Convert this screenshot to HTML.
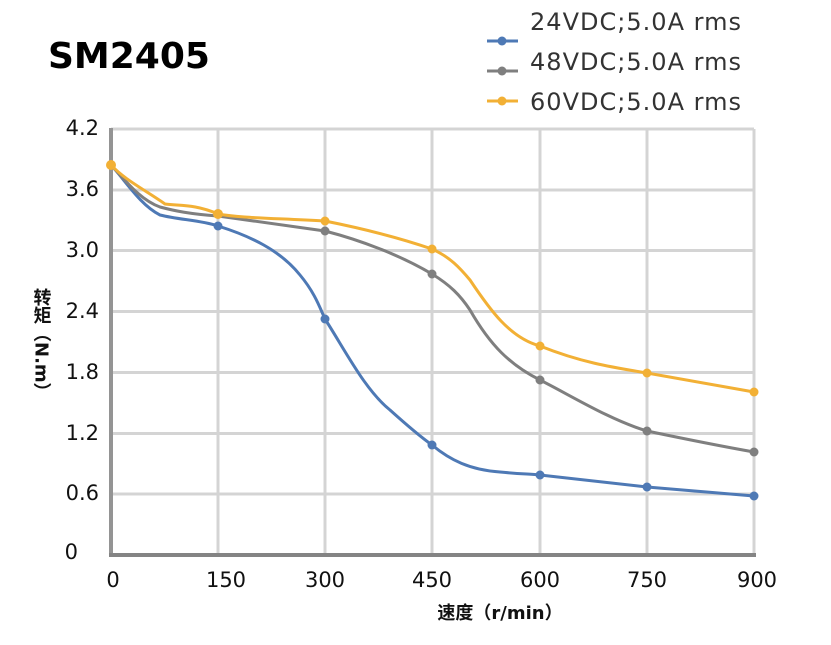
<!DOCTYPE html>
<html><head><meta charset="utf-8"><style>
body{margin:0;background:#fff;}
svg text{font-family:"DejaVu Sans","Noto Sans CJK SC",sans-serif;}
</style></head><body>
<svg width="831" height="640" viewBox="0 0 831 640" xmlns="http://www.w3.org/2000/svg">
<rect width="831" height="640" fill="#fff"/>
<g stroke="#d4d4d4" stroke-width="3">
<line x1="111" y1="129" x2="754" y2="129"/>
<line x1="111" y1="190" x2="754" y2="190"/>
<line x1="111" y1="250.5" x2="754" y2="250.5"/>
<line x1="111" y1="311.5" x2="754" y2="311.5"/>
<line x1="111" y1="372.5" x2="754" y2="372.5"/>
<line x1="111" y1="433.5" x2="754" y2="433.5"/>
<line x1="111" y1="494" x2="754" y2="494"/>
<line x1="218" y1="129" x2="218" y2="555"/>
<line x1="325" y1="129" x2="325" y2="555"/>
<line x1="432" y1="129" x2="432" y2="555"/>
<line x1="540" y1="129" x2="540" y2="555"/>
<line x1="647" y1="129" x2="647" y2="555"/>
<line x1="754" y1="129" x2="754" y2="555"/>
</g>
<line x1="111" y1="128" x2="111" y2="556" stroke="#949494" stroke-width="4"/>
<line x1="109" y1="555" x2="756" y2="555" stroke="#848484" stroke-width="4"/>
<g font-size="21" fill="#111" text-anchor="end">
<text x="99" y="135">4.2</text><text x="99" y="196">3.6</text><text x="99" y="257">3.0</text>
<text x="99" y="318">2.4</text><text x="99" y="379">1.8</text><text x="99" y="440">1.2</text>
<text x="99" y="500">0.6</text><text x="78" y="559">0</text>
</g>
<g font-size="21" fill="#111" text-anchor="middle">
<text x="113" y="587">0</text><text x="226" y="587">150</text><text x="325" y="587">300</text>
<text x="432" y="587">450</text><text x="540" y="587">600</text><text x="647" y="587">750</text><text x="757" y="587">900</text>
</g>
<text x="500" y="619" font-size="18" font-weight="bold" text-anchor="middle" fill="#111">速度（r/min）</text>
<text x="41" y="288" font-size="18" font-weight="bold" fill="#111" style="writing-mode:vertical-rl">转矩（N.m）</text>
<text x="48" y="68" font-size="36" font-weight="bold" fill="#000">SM2405</text>
<g stroke-width="3" fill="none" stroke-linecap="round" stroke-linejoin="round">
<path stroke="#4e79b5" d="M111,165 C125,180 140,205 160,215 C180,220 200,220 218,226 C250,236 280,250 300,275 C315,293 320,308 325,319 C345,350 365,390 390,410 C410,428 425,440 432,445 C450,460 470,470 500,472 C520,474 530,474 540,475 L647,487 L754,496"/>
<path stroke="#7f7f7f" d="M111,165 C125,180 140,200 160,207 C175,211 190,214 218,216 L325,231 C360,240 400,255 432,274 C450,285 460,295 470,310 C490,345 510,365 540,380 C570,395 610,420 647,431 C690,440 720,446 754,452"/>
<path stroke="#f2b035" d="M111,165 C125,180 145,190 165,204 C180,206 195,204 218,214 C240,218 270,218 325,221 C360,228 400,238 432,249 C450,257 460,268 470,280 C490,310 510,338 540,346 C580,362 610,367 647,373 L754,392"/>
</g>
<g fill="#4e79b5"><circle cx="218" cy="226" r="4.5"/><circle cx="325" cy="319" r="4.5"/><circle cx="432" cy="445" r="4.5"/><circle cx="540" cy="475" r="4.5"/><circle cx="647" cy="487" r="4.5"/><circle cx="754" cy="496" r="4.5"/></g>
<g fill="#7f7f7f"><circle cx="325" cy="231" r="4.5"/><circle cx="432" cy="274" r="4.5"/><circle cx="540" cy="380" r="4.5"/><circle cx="647" cy="431" r="4.5"/><circle cx="754" cy="452" r="4.5"/></g>
<g fill="#f2b035"><circle cx="111" cy="165" r="5"/><circle cx="218" cy="214" r="5"/><circle cx="325" cy="221" r="4.5"/><circle cx="432" cy="249" r="4.5"/><circle cx="540" cy="346" r="4.5"/><circle cx="647" cy="373" r="4.5"/><circle cx="754" cy="392" r="4.5"/></g>
<g stroke-width="3">
<line x1="487" y1="41" x2="518" y2="41" stroke="#4e79b5"/><circle cx="502" cy="41" r="4.5" fill="#4e79b5"/>
<line x1="487" y1="71" x2="518" y2="71" stroke="#7f7f7f"/><circle cx="502" cy="71" r="4.5" fill="#7f7f7f"/>
<line x1="487" y1="101" x2="518" y2="101" stroke="#f2b035"/><circle cx="502" cy="101" r="4.5" fill="#f2b035"/>
</g>
<g font-size="24" fill="#333">
<text x="530" y="30" textLength="211">24VDC;5.0A rms</text>
<text x="530" y="70" textLength="211">48VDC;5.0A rms</text>
<text x="530" y="110" textLength="211">60VDC;5.0A rms</text>
</g>
</svg>
</body></html>
